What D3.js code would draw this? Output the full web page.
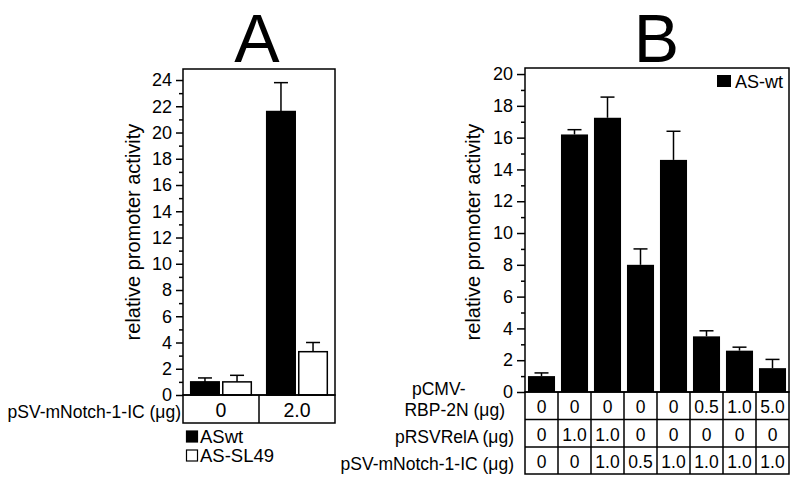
<!DOCTYPE html>
<meta charset="utf-8">
<style>
body { margin: 0; background: #fff; }
svg { display: block; }
text { font-family: "Liberation Sans", Arial, Helvetica, sans-serif; fill: #000; }
.frame { fill: none; stroke: #000; stroke-width: 1.5px; }
.tick line { stroke: #000; stroke-width: 1.5px; }
.err { stroke: #000; stroke-width: 1.5px; }
</style>
<body>
<script src="https://d3js.org/d3.v7.min.js"></script>
<script>
// panel A data
var groupsA = ["0", "2.0"];
var seriesA = ["ASwt", "AS-SL49"];
var aswtA = [1.0, 21.6];
var aswtErrA = [0.3, 2.2];
var sl49A = [1.0, 3.3];
var sl49ErrA = [0.5, 0.7];
var ticksA = [0, 2, 4, 6, 8, 10, 12, 14, 16, 18, 20, 22, 24];

// panel B data
var lanesB = [1, 2, 3, 4, 5, 6, 7, 8];
var valuesB = [1.0, 16.2, 17.25, 8.0, 14.6, 3.5, 2.6, 1.5];
var errB = [0.2, 0.3, 1.3, 1.0, 1.8, 0.35, 0.22, 0.55];
var ticksB = [0, 2, 4, 6, 8, 10, 12, 14, 16, 18, 20];
var rbpB = ["0", "0", "0", "0", "0", "0.5", "1.0", "5.0"];
var relaB = ["0", "1.0", "1.0", "0", "0", "0", "0", "0"];
var notchB = ["0", "0", "1.0", "0.5", "1.0", "1.0", "1.0", "1.0"];

var svg = d3.select("body").append("svg")
    .attr("width", 800)
    .attr("height", 482);

// ---------- Panel A ----------
var yA = d3.scaleLinear().domain([0, 24.84]).range([395, 69]);
var xA = d3.scaleBand().domain(groupsA).range([183, 335]);
var subA = d3.scaleBand().domain(seriesA).range([0, xA.bandwidth()])
    .paddingInner(0.11).paddingOuter(0.24);

svg.append("text").attr("x", 257).attr("y", 62)
    .attr("text-anchor", "middle").style("font-size", "68px").text("A");

svg.append("g").attr("transform", "translate(183,0)")
    .call(d3.axisLeft(yA).tickValues(d3.range(1, 25, 2)).tickSize(4).tickFormat(""))
    .call(g => g.select(".domain").remove());
svg.append("g").attr("transform", "translate(183,0)")
    .call(d3.axisLeft(yA).tickValues(ticksA).tickSize(7).tickPadding(4))
    .call(g => g.select(".domain").remove())
    .selectAll("text").style("font-size", "18px");

svg.append("text")
    .attr("transform", "translate(140,232) rotate(-90)")
    .attr("text-anchor", "middle").style("font-size", "20px")
    .text("relative promoter activity");

var barsA = [
  {s: "ASwt", v: aswtA, e: aswtErrA, fill: "#000"},
  {s: "AS-SL49", v: sl49A, e: sl49ErrA, fill: "#fff"}
];
barsA.forEach(function(ser) {
  groupsA.forEach(function(g, i) {
    var x0 = xA(g) + subA(ser.s);
    var cx = x0 + subA.bandwidth() / 2;
    var top = ser.v[i] + ser.e[i];
    svg.append("line").attr("class", "err")
        .attr("x1", cx).attr("x2", cx)
        .attr("y1", yA(ser.v[i])).attr("y2", yA(top));
    svg.append("line").attr("class", "err")
        .attr("x1", cx - 7).attr("x2", cx + 7)
        .attr("y1", yA(top)).attr("y2", yA(top));
    svg.append("rect")
        .attr("x", x0).attr("y", yA(ser.v[i]))
        .attr("width", subA.bandwidth()).attr("height", yA(0) - yA(ser.v[i]))
        .attr("fill", ser.fill).attr("stroke", "#000").attr("stroke-width", 1.5);
  });
});

svg.append("rect").attr("class", "frame")
    .attr("x", 183).attr("y", 69).attr("width", 152).attr("height", 326);
// table A
svg.append("rect").attr("class", "frame")
    .attr("x", 183).attr("y", 395).attr("width", 152).attr("height", 28);
svg.append("line").attr("class", "err")
    .attr("x1", xA("2.0")).attr("x2", xA("2.0")).attr("y1", 395).attr("y2", 423);
groupsA.forEach(function(g) {
  svg.append("text").attr("x", xA(g) + xA.bandwidth() / 2).attr("y", 417)
      .attr("text-anchor", "middle").style("font-size", "19.5px").text(g);
});
svg.append("text").attr("x", 181).attr("y", 418)
    .attr("text-anchor", "end").style("font-size", "17.5px")
    .text("pSV-mNotch-1-IC (\u03bcg)");

// legend A
barsA.forEach(function(ser, i) {
  svg.append("rect").attr("x", 186.5).attr("y", 431 + i * 19)
      .attr("width", 11).attr("height", 11)
      .attr("fill", ser.fill).attr("stroke", "#000").attr("stroke-width", 1.2);
  svg.append("text").attr("x", 200).attr("y", 442.5 + i * 19)
      .style("font-size", "18.5px").text(ser.s);
});

// ---------- Panel B ----------
var yB = d3.scaleLinear().domain([0, 20.38]).range([392, 68]);
var colB = d3.scaleBand().domain(lanesB).range([525, 789]);
var barW = colB.bandwidth() * 0.82;

svg.append("text").attr("x", 656.5).attr("y", 62)
    .attr("text-anchor", "middle").style("font-size", "68px").text("B");

svg.append("g").attr("transform", "translate(525,0)")
    .call(d3.axisLeft(yB).tickValues(d3.range(1, 21, 2)).tickSize(4).tickFormat(""))
    .call(g => g.select(".domain").remove());
svg.append("g").attr("transform", "translate(525,0)")
    .call(d3.axisLeft(yB).tickValues(ticksB).tickSize(8).tickPadding(4))
    .call(g => g.select(".domain").remove())
    .selectAll("text").style("font-size", "18px");

svg.append("text")
    .attr("transform", "translate(480,232) rotate(-90)")
    .attr("text-anchor", "middle").style("font-size", "20px")
    .text("relative promoter activity");

lanesB.forEach(function(d, i) {
  var cx = colB(d) + colB.bandwidth() / 2;
  var top = valuesB[i] + errB[i];
  svg.append("line").attr("class", "err")
      .attr("x1", cx).attr("x2", cx)
      .attr("y1", yB(valuesB[i])).attr("y2", yB(top));
  svg.append("line").attr("class", "err")
      .attr("x1", cx - 7).attr("x2", cx + 7)
      .attr("y1", yB(top)).attr("y2", yB(top));
  svg.append("rect")
      .attr("x", cx - barW / 2).attr("y", yB(valuesB[i]))
      .attr("width", barW).attr("height", yB(0) - yB(valuesB[i]))
      .attr("fill", "#000");
});

svg.append("rect").attr("class", "frame")
    .attr("x", 525).attr("y", 68).attr("width", 264).attr("height", 324);

// legend B
svg.append("rect").attr("x", 717).attr("y", 75).attr("width", 14).attr("height", 12).attr("fill", "#000");
svg.append("text").attr("x", 735).attr("y", 87.5).style("font-size", "18px").text("AS-wt");

// table B
var rowsB = [rbpB, relaB, notchB];
var rowTop = [392, 419.5, 447, 474];
svg.append("rect").attr("class", "frame")
    .attr("x", 525).attr("y", 392).attr("width", 264).attr("height", 82);
rowTop.slice(1, 3).forEach(function(y) {
  svg.append("line").attr("class", "err").attr("x1", 525).attr("x2", 789).attr("y1", y).attr("y2", y);
});
lanesB.slice(1).forEach(function(d) {
  svg.append("line").attr("class", "err")
      .attr("x1", colB(d)).attr("x2", colB(d)).attr("y1", 392).attr("y2", 474);
});
rowsB.forEach(function(row, r) {
  row.forEach(function(v, i) {
    svg.append("text")
        .attr("x", colB(lanesB[i]) + colB.bandwidth() / 2)
        .attr("y", rowTop[r] + 21)
        .attr("text-anchor", "middle").style("font-size", "17.5px").text(v);
  });
});
svg.append("text").attr("x", 412).attr("y", 395).style("font-size", "17.5px").text("pCMV-");
svg.append("text").attr("x", 505).attr("y", 416).attr("text-anchor", "end")
    .style("font-size", "17.5px").text("RBP-2N (\u03bcg)");
svg.append("text").attr("x", 514).attr("y", 443).attr("text-anchor", "end")
    .style("font-size", "17.5px").text("pRSVRelA (\u03bcg)");
svg.append("text").attr("x", 514).attr("y", 470).attr("text-anchor", "end")
    .style("font-size", "17.5px").text("pSV-mNotch-1-IC (\u03bcg)");
</script>
</body>
